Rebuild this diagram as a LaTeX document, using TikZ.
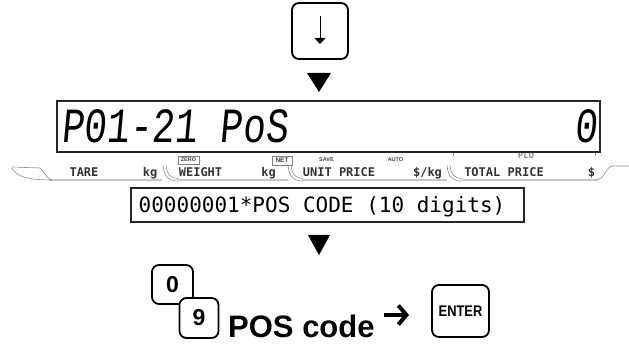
\documentclass[tikz,border=0pt]{standalone}
\usepackage{fontspec}
\usepackage{graphicx}
\setmainfont{Liberation Sans}
\newfontfamily\monofam{DejaVu Sans Mono}
\newfontfamily\lcdfam[FakeSlant=0.12]{Liberation Mono}
\newcommand\myfs[1]{\fontsize{#1}{#1}\selectfont}
\usetikzlibrary{arrows.meta}
\begin{document}
\begin{tikzpicture}[x=1pt,y=-1pt,
  key/.style={draw=black, line width=1.8pt, rounded corners=7pt, fill=white, inner sep=0pt},
  lab/.style={font={\monofam\bfseries\myfs{12}}, text=black!80, inner sep=0pt, anchor=base},
  tinylab/.style={font={\bfseries\myfs{5.5}}, text=black!75, inner sep=0.5pt},
  barline/.style={draw=black!22, line width=2.5pt},
  tabline/.style={draw=black!45, line width=0.6pt},
  bigarrow/.style={line width=4pt, -{Straight Barb[length=8pt,width=19pt]}}]
\useasboundingbox (0,0) rectangle (629,347);

% down key
\node[key, minimum width=56pt, minimum height=56pt] (down) at (320,31) {};
\coordinate (dtop) at (320,16);
\coordinate (dbot) at (320,44);
\draw[line width=1pt, -{Triangle[length=6pt,width=11pt]}] (dtop) -- (dbot);

% triangle 1
\coordinate (t1) at (319,73);
\fill (307,73) -- (331,73) -- (319,92) -- cycle;

% PLU indicator
\draw[draw=black!40, line width=1pt] (453,156) -- (453,153) -- (595,153) -- (595,156);
\node[font={\monofam\bfseries\myfs{9}}, text=black!45, fill=white, inner xsep=3pt, inner ysep=0pt] (plu) at (526,155) {PLU};

% display
\node[draw=black!85, line width=2pt, fill=white, minimum width=543pt, minimum height=51pt, inner sep=0pt] (disp) at (328.5,126.5) {};
\node[font={\lcdfam\myfs{37.8}}, anchor=base west, inner sep=0pt] (lcdl) at (61,143) {\scalebox{1}[1.3]{P01-21 PoS}};
\node[font={\lcdfam\myfs{37.8}}, anchor=base east, inner sep=0pt] (lcdr) at (597,143) {\scalebox{1}[1.3]{0}};

% label bar
\draw[barline] (50,180) -- (162,180);
\draw[barline] (177,180) -- (288,180);
\draw[barline] (302,180) -- (447,180);
\draw[barline] (462,180) -- (597,180);
\foreach \x in {163,288,447} {
  \draw[tabline] (\x,165) .. controls (\x+1,177) and (\x+6,181) .. (\x+15,181);
  \draw[tabline] (\x+3,165) .. controls (\x+4,175) and (\x+8,178.5) .. (\x+15,178.5);
}
\draw[tabline] (12,167) -- (40,168) .. controls (44,170) and (45,178) .. (52,180);
\draw[tabline] (12,168) .. controls (16,176) and (26,180) .. (52,180);
\draw[tabline] (596,180) .. controls (605,179) and (606,166) .. (613,166) -- (629,166);

\node[lab] (tare) at (84,177) {TARE};
\node[lab] (kg1) at (150,177) {kg};
\node[lab] (weight) at (200.5,177) {WEIGHT};
\node[lab] (kg2) at (268.5,177) {kg};
\node[lab] (unitp) at (339,177) {UNIT PRICE};
\node[lab] (perkg) at (427.5,177) {\$/kg};
\node[lab] (totalp) at (504,177) {TOTAL PRICE};
\node[lab] (dollar) at (591.5,177) {\$};

\node[tinylab, draw=black!50, line width=0.6pt, minimum width=21pt, minimum height=8pt] (zero) at (188.5,160) {ZERO};
\node[tinylab, font={\bfseries\myfs{6.5}}, draw=black!50, line width=0.6pt, minimum width=20pt, minimum height=9pt] (net) at (282,160.5) {NET};
\node[tinylab] (save) at (326.5,160) {SAVE};
\node[tinylab] (auto) at (395.5,160) {AUTO};

% POS code box
\node[draw=black!85, line width=1.5pt, minimum width=393pt, minimum height=34pt, inner sep=0pt] (posbox) at (327.5,205) {};
\node[font={\monofam\myfs{21}}, anchor=base west, inner sep=0pt] (postxt) at (138.5,212.5) {00000001*POS CODE (10 digits)};

% triangle 2
\coordinate (t2) at (319,235);
\fill (308,235) -- (330,235) -- (319,255) -- cycle;

% keys
\node[key, minimum width=41pt, minimum height=39pt, font={\bfseries\myfs{23}}] (k0) at (172.5,284.5) {0};
\node[key, minimum width=39pt, minimum height=40pt, font={\bfseries\myfs{23}}] (k9) at (199,318) {9};
\node[anchor=base west, inner sep=0pt, font={\bfseries\myfs{31}}] (pc) at (228,337) {POS code};
\node[key, minimum width=57pt, minimum height=52pt, font={\bfseries\myfs{14}}] (ent) at (460.5,311) {\scalebox{0.92}[1.1]{ENTER}};
\coordinate (a1) at (384,315);
\coordinate (a2) at (409,315);
\draw[bigarrow] (a1) -- (a2);
\end{tikzpicture}
\end{document}
